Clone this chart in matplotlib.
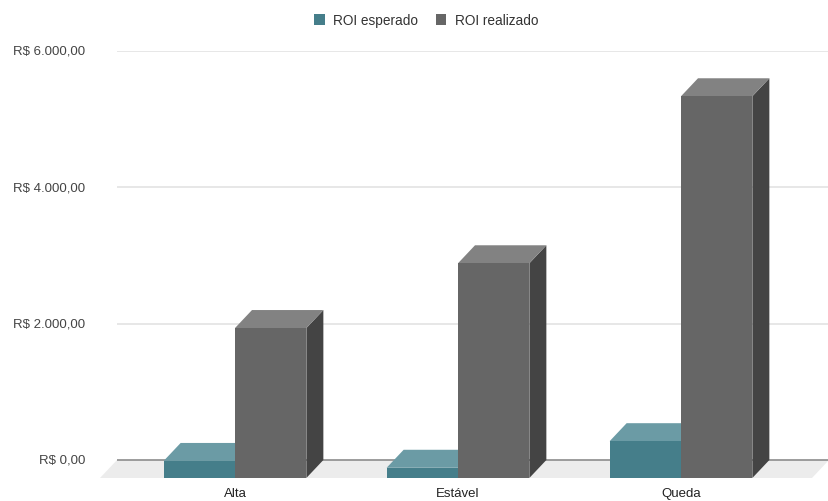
import matplotlib
matplotlib.use("Agg")
import matplotlib.pyplot as plt
from matplotlib.patches import Polygon, Patch

# ROI por cenário de mercado
categories = ["Alta", "Estável", "Queda"]
roi_esperado = [250, 150, 540]
roi_realizado = [2200, 3150, 5600]
y_ticks = [0, 2000, 4000, 6000]

TEAL = {"front": "#457e8a", "top": "#6b9ba5", "side": "#2f5f69"}
GRAY = {"front": "#666666", "top": "#828282", "side": "#444444"}
FLOOR = "#ececec"
TEXT = "#444444"

plt.rcParams["font.family"] = ["Liberation Sans", "DejaVu Sans"]

W, H, DPI = 829, 502, 100
fig = plt.figure(figsize=(W / DPI, H / DPI), dpi=DPI, facecolor="white")

# plot area in pixels: back wall x 117..829, front floor at 480, top gridline at 52
ax = fig.add_axes([117 / W, (H - 480) / H, 712 / W, (480 - 52) / H])
px_per_val = (461 - 52) / 6000.0
xmin, xmax = -(252 - 117) / 223.0, (829 - 252) / 223.0
ax.set_xlim(xmin, xmax)
ax.set_ylim(-(480 - 461) / px_per_val, 6000)
ax.axis("off")

# oblique depth offset (front face is shifted left/down from the back wall)
dx = 17 / 223.0
dy = 18 / px_per_val

# gridlines on the back wall
for t in y_ticks:
    ax.plot([xmin, xmax], [t, t], color="#8c8c8c" if t == 0 else "#e3e3e3",
            lw=1.2, zorder=1, solid_capstyle="butt")
    lbl = "R$ " + f"{t:,.2f}".replace(",", "X").replace(".", ",").replace("X", ".")
    ax.text(xmin - 32 / 223.0, t, lbl, ha="right", va="center",
            fontsize=9.5, color=TEXT, clip_on=False)

# floor
ax.add_patch(Polygon([(xmin - dx, -dy), (xmax - dx, -dy), (xmax, 0), (xmin, 0)],
                     closed=True, facecolor=FLOOR, edgecolor="none",
                     zorder=0.5, clip_on=False))

bw = 0.32


def bar3d(xc, v, cols, z):
    x0, x1 = xc - bw / 2, xc + bw / 2
    ax.add_patch(Polygon([(x1 - dx, -dy), (x1, 0), (x1, v), (x1 - dx, v - dy)],
                         closed=True, facecolor=cols["side"], edgecolor="none",
                         zorder=z, clip_on=False))
    ax.add_patch(Polygon([(x0 - dx, v - dy), (x1 - dx, v - dy), (x1, v), (x0, v)],
                         closed=True, facecolor=cols["top"], edgecolor="none",
                         zorder=z, clip_on=False))
    ax.bar(xc - dx, v, bw, bottom=-dy, color=cols["front"], zorder=z,
           linewidth=0, clip_on=False)


for i, cat in enumerate(categories):
    bar3d(i - bw / 2, roi_esperado[i], TEAL, 2 + i * 2)
    bar3d(i + bw / 2, roi_realizado[i], GRAY, 3 + i * 2)
    ax.text(i - dx, -dy - 9 / px_per_val, cat, ha="center", va="top",
            fontsize=9.5, color="#222222", clip_on=False)

handles = [Patch(facecolor=TEAL["front"], label="ROI esperado"),
           Patch(facecolor=GRAY["front"], label="ROI realizado")]
fig.legend(handles=handles, loc="center", bbox_to_anchor=(426 / W, 1 - 21 / H),
           ncol=2, frameon=False, fontsize=9.8, handlelength=0.8,
           handleheight=0.9, handletextpad=0.6, columnspacing=1.3,
           labelcolor="#333333")

fig.savefig("out.png", dpi=DPI, facecolor="white")
